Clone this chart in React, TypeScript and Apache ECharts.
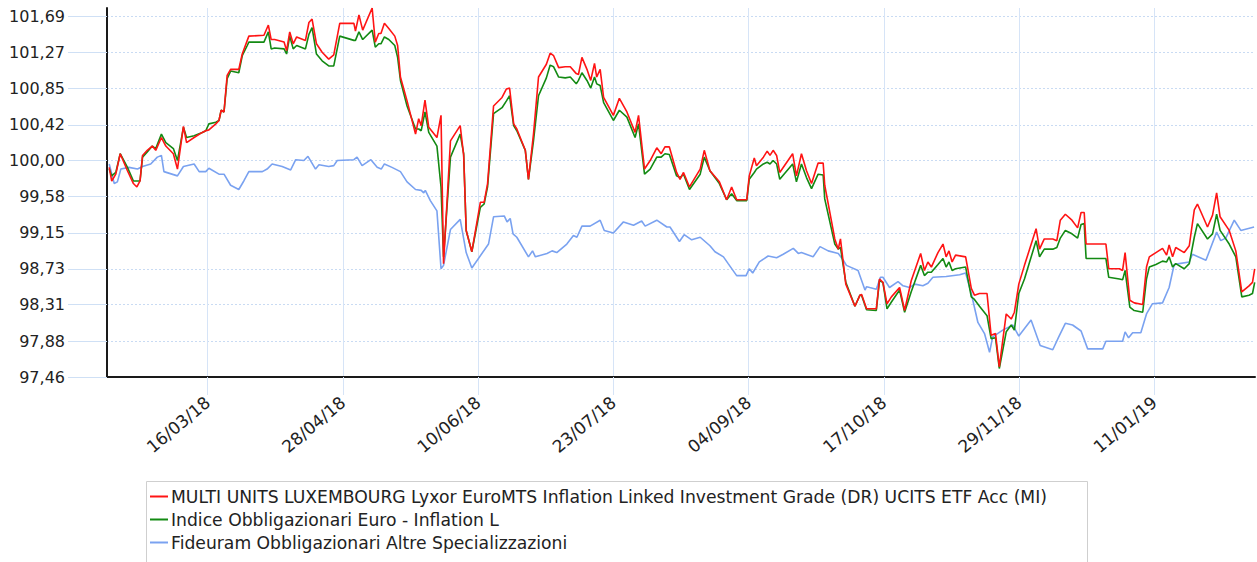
import React, { useEffect, useRef } from "react";
import * as echarts from "echarts";

// Day 0 = 12/02/2018
const xTickDays = [32, 75, 118, 161, 204, 247, 290, 333];
const xTickLabels = ["16/03/18", "28/04/18", "10/06/18", "23/07/18", "04/09/18", "17/10/18", "29/11/18", "11/01/19"];
const yTickLabels = ["97,46", "97,88", "98,31", "98,73", "99,15", "99,58", "100,00", "100,42", "100,85", "101,27", "101,69"];
const yTickValues = yTickLabels.map((s) => parseFloat(s.replace(",", ".")));

const seriesNames = [
  "MULTI UNITS LUXEMBOURG Lyxor EuroMTS Inflation Linked Investment Grade (DR) UCITS ETF Acc (MI)",
  "Indice Obbligazionari Euro - Inflation L",
  "Fideuram Obbligazionari Altre Specializzazioni",
];

const rgDays = [
  0.7, 1.5, 2.8, 4.2, 6.5, 8.4, 9.5, 10.5, 11.3, 12.8,
  14.4, 15.5, 17.3, 18.7, 21.1, 22.4, 24.3, 25.3, 27.7, 30.3,
  31.4, 32.4, 34.6, 35.6, 36.3, 37.2, 38.2, 39.3, 41.9, 43.0,
  44.6, 45.1, 49.9, 51.3, 52.2, 53.3, 56.3, 57.1, 58.1, 59.2,
  60.3, 63.1, 64.2, 65.2, 66.6, 68.4, 70.5, 72.1, 74.0, 78.5,
  79.0, 80.1, 81.3, 84.3, 85.3, 86.4, 87.1, 88.2, 89.6, 91.5,
  92.4, 93.3, 95.4, 98.1, 99.1, 99.9, 101.1, 102.3, 104.9, 106.2,
  107.0, 109.2, 112.3, 113.4, 114.2, 116.0, 118.7, 119.9, 121.0, 122.9,
  125.6, 127.0, 128.0, 129.3, 130.3, 133.0, 134.0, 135.6, 137.2, 139.7,
  140.9, 142.0, 143.6, 145.7, 147.3, 149.2, 149.9, 151.0, 152.6, 153.8,
  155.0, 155.7, 156.8, 157.9, 161.0, 162.9, 165.3, 167.9, 169.0, 170.9,
  172.7, 174.8, 176.2, 177.4, 178.8, 181.1, 182.2, 183.3, 185.2, 188.6,
  189.9, 191.7, 194.7, 197.0, 198.6, 200.2, 203.4, 204.2, 205.8, 206.5,
  208.7, 209.9, 210.8, 211.8, 212.9, 213.9, 218.0, 219.2, 220.8, 222.4,
  224.0, 226.1, 227.7, 228.2, 231.4, 232.5, 233.2, 234.9, 237.8, 239.4,
  239.9, 241.5, 244.6,
  245.6, 246.7, 248.0, 249.4, 252.0, 253.6, 255.7, 258.7, 259.9, 261.0,
  262.1, 264.2, 265.8, 266.8, 267.7, 268.7, 269.8, 273.0, 274.8, 275.8,
  277.4, 279.8, 281.1, 282.5, 283.7, 285.9, 287.5, 288.5, 289.9, 291.7,
  295.4, 296.5, 298.0, 300.7, 302.0, 303.1, 304.7, 306.8, 308.6, 309.7,
  310.7, 311.3, 317.6, 318.5, 321.9, 322.9, 323.7, 325.2, 326.6, 329.3,
  330.5, 331.4, 333.5, 335.6, 336.9, 337.7, 338.8, 339.8, 342.5, 344.1,
  345.7, 346.7, 349.9, 351.5, 352.8, 353.9, 356.8, 358.9, 360.8, 363.1,
  364.2, 364.9,
];

const redValues = [
  99.92, 99.76, 99.84, 100.08, 99.88, 99.73, 99.69, 99.76, 100.06, 100.12,
  100.17, 100.12, 100.27, 100.17, 100.08, 99.90, 100.40, 100.21, 100.27, 100.33,
  100.35, 100.36, 100.43, 100.47, 100.59, 100.57, 101.00, 101.07, 101.07, 101.25,
  101.41, 101.46, 101.47, 101.59, 101.42, 101.42, 101.39, 101.29, 101.51, 101.37,
  101.45, 101.41, 101.62, 101.66, 101.37, 101.27, 101.19, 101.24, 101.61, 101.61,
  101.52, 101.71, 101.53, 101.79, 101.39, 101.49, 101.49, 101.61, 101.55, 101.46,
  101.35, 100.98, 100.70, 100.31, 100.49, 100.41, 100.71, 100.39, 100.27, 100.53,
  98.79, 100.23, 100.41, 100.06, 99.18, 98.93, 99.51, 99.51, 99.73, 100.64,
  100.74, 100.84, 100.85, 100.43, 100.37, 100.12, 99.78, 100.31, 100.98, 101.13,
  101.26, 101.23, 101.09, 101.10, 101.10, 101.02, 101.01, 101.21, 101.07, 100.94,
  101.14, 100.98, 101.07, 100.74, 100.53, 100.73, 100.57, 100.33, 100.53, 99.90,
  100.00, 100.15, 100.08, 100.16, 100.16, 99.86, 99.78, 99.86, 99.69, 99.90,
  100.12, 99.88, 99.75, 99.54, 99.69, 99.54, 99.54, 99.82, 100.03, 99.94,
  100.04, 100.11, 100.06, 100.12, 100.06, 99.86, 100.08, 99.82, 100.08, 99.88,
  99.73, 99.97, 99.97, 99.71, 99.08, 98.96, 99.08, 98.55, 98.29, 98.42,
  98.43, 98.26, 98.26,
  98.61, 98.57, 98.32, 98.40, 98.51, 98.24, 98.59, 98.91, 98.71, 98.81,
  98.75, 98.92, 99.02, 98.87, 98.94, 98.81, 98.89, 98.87, 98.50, 98.42,
  98.44, 98.44, 97.95, 97.97, 97.58, 98.20, 98.14, 98.22, 98.55, 98.77,
  99.20, 98.96, 99.08, 99.08, 99.06, 99.30, 99.37, 99.30, 99.21, 99.39,
  99.39, 99.02, 99.02, 98.73, 98.73, 98.71, 98.92, 98.36, 98.33, 98.31,
  98.75, 98.87, 98.92, 98.97, 98.89, 99.01, 98.87, 98.98, 98.92, 99.00,
  99.42, 99.49, 99.22, 99.36, 99.62, 99.34, 99.18, 98.94, 98.46, 98.53,
  98.57, 98.73,
];

const greenValues = [
  99.90, 99.82, 99.86, 100.08, 99.92, 99.76, 99.76, 99.76, 100.04, 100.10,
  100.17, 100.14, 100.31, 100.21, 100.14, 100.00, 100.39, 100.27, 100.29, 100.33,
  100.35, 100.43, 100.45, 100.47, 100.59, 100.57, 100.96, 101.05, 101.03, 101.23,
  101.35, 101.39, 101.39, 101.51, 101.31, 101.32, 101.31, 101.25, 101.46, 101.31,
  101.35, 101.31, 101.48, 101.56, 101.25, 101.17, 101.11, 101.11, 101.46, 101.41,
  101.41, 101.51, 101.42, 101.53, 101.33, 101.37, 101.37, 101.45, 101.42, 101.35,
  101.21, 100.94, 100.64, 100.37, 100.37, 100.35, 100.57, 100.33, 100.17, 99.69,
  98.87, 100.04, 100.31, 100.08, 99.18, 98.93, 99.45, 99.49, 99.69, 100.55,
  100.62, 100.70, 100.76, 100.41, 100.35, 100.12, 99.78, 100.23, 100.76, 100.97,
  101.12, 101.10, 100.98, 100.97, 100.98, 100.90, 100.94, 101.03, 100.94, 100.85,
  100.98, 100.90, 100.88, 100.68, 100.47, 100.59, 100.51, 100.27, 100.43, 99.84,
  99.90, 100.04, 100.04, 100.08, 100.07, 99.82, 99.80, 99.84, 99.66, 99.84,
  100.04, 99.88, 99.73, 99.54, 99.61, 99.53, 99.53, 99.78, 99.86, 99.90,
  99.96, 99.98, 99.96, 100.00, 99.96, 99.78, 99.96, 99.75, 99.96, 99.80,
  99.67, 99.84, 99.83, 99.55, 99.02, 98.96, 98.98, 98.57, 98.29, 98.42,
  98.42, 98.25, 98.24,
  98.59, 98.57, 98.26, 98.34, 98.48, 98.22, 98.46, 98.77, 98.65, 98.69,
  98.69, 98.78, 98.85, 98.75, 98.81, 98.71, 98.73, 98.75, 98.40, 98.37,
  98.29, 98.18, 97.91, 97.92, 97.56, 97.99, 98.07, 98.01, 98.44, 98.61,
  99.06, 98.87, 98.96, 98.96, 98.98, 99.09, 99.18, 99.14, 99.09, 99.25,
  99.26, 98.85, 98.85, 98.63, 98.61, 98.60, 98.71, 98.28, 98.24, 98.22,
  98.61, 98.75, 98.78, 98.82, 98.81, 98.87, 98.75, 98.79, 98.73, 98.79,
  99.10, 99.26, 99.08, 99.14, 99.37, 99.18, 99.02, 98.87, 98.40, 98.42,
  98.44, 98.57,
];

const blueDays = [
  0.7, 2.3, 3.3, 4.4, 7.0, 9.7, 11.3, 13.9, 16.0, 17.3,
  18.1, 22.4, 24.3, 27.7, 29.3, 31.4, 32.4, 35.6, 37.2, 39.3,
  41.9, 43.5, 45.1, 49.4, 50.9, 52.5, 55.7, 58.4, 60.0, 62.6,
  63.9, 66.3, 67.4, 70.5, 72.1, 73.2, 78.5, 79.5, 81.1, 83.9,
  85.9, 87.2, 88.2, 90.6, 93.3, 95.4, 98.1, 99.9, 100.7, 101.2,
  102.8, 104.9, 106.2, 107.0, 109.2, 112.3, 114.2, 116.0, 121.3, 122.9,
  126.3, 127.2, 128.2, 129.1, 130.3, 134.0, 135.3, 136.2, 139.9, 141.5,
  143.0, 146.2, 148.3, 149.4, 151.0, 153.6, 156.8, 158.1, 161.0, 164.2,
  167.4, 170.0, 171.1, 174.8, 178.0, 179.0, 182.0, 183.5, 185.9, 188.6,
  191.7, 193.3, 196.0, 197.5, 200.2, 203.2, 204.2, 205.3, 207.4, 210.2,
  212.9, 215.0, 218.2, 219.8, 220.8, 224.5, 226.7, 229.3, 232.5, 234.1,
  235.1, 238.8, 241.0, 241.5, 242.5, 244.6,
  245.9, 246.7, 248.8, 251.5, 253.1, 255.2, 256.8, 259.4, 261.0, 262.6,
  266.8, 271.1, 273.0, 274.8, 276.9, 279.0, 280.6, 281.6, 284.8, 288.0,
  289.9, 293.8, 296.7, 300.7, 302.6, 304.7, 307.0, 309.7, 311.8, 316.6,
  317.6, 322.9, 323.7, 324.8, 326.1, 328.7, 330.5, 332.4, 335.6, 337.7,
  339.3, 340.9, 344.1, 345.1, 349.4, 352.8, 354.1, 355.7, 358.4, 360.5,
  364.7,
];

const blueValues = [
  99.96, 99.73, 99.75, 99.90, 99.92, 99.90, 99.93, 99.96, 100.04, 100.06,
  99.87, 99.82, 99.93, 99.96, 99.87, 99.87, 99.91, 99.84, 99.84, 99.71,
  99.66, 99.76, 99.87, 99.87, 99.90, 99.96, 99.93, 99.89, 100.01, 100.00,
  100.05, 99.90, 99.95, 99.93, 99.94, 100.00, 100.01, 100.04, 99.94, 100.01,
  99.92, 99.90, 99.96, 99.92, 99.87, 99.75, 99.66, 99.65, 99.62, 99.65,
  99.53, 99.41, 98.73, 98.77, 99.19, 99.31, 98.92, 98.74, 99.02, 99.34,
  99.35, 99.28, 99.32, 99.14, 99.10, 98.87, 98.94, 98.87, 98.91, 98.94,
  98.92, 99.02, 99.12, 99.10, 99.23, 99.23, 99.30, 99.18, 99.15, 99.28,
  99.24, 99.29, 99.23, 99.30, 99.22, 99.22, 99.05, 99.13, 99.07, 99.10,
  99.00, 98.93, 98.87, 98.79, 98.65, 98.65, 98.73, 98.68, 98.81, 98.88,
  98.86, 98.90, 98.97, 98.91, 98.92, 98.87, 98.99, 98.94, 98.91, 98.83,
  98.77, 98.71, 98.48, 98.52, 98.51, 98.49,
  98.63, 98.63, 98.51, 98.58, 98.53, 98.51, 98.55, 98.53, 98.56, 98.63,
  98.64, 98.66, 98.68, 98.44, 98.10, 97.97, 97.75, 97.93, 98.01, 98.07,
  97.94, 98.13, 97.83, 97.78, 97.93, 98.09, 98.07, 98.00, 97.79, 97.79,
  97.88, 97.88, 97.99, 97.92, 97.98, 97.98, 98.20, 98.32, 98.33, 98.51,
  98.78, 98.79, 98.81, 98.90, 98.83, 99.16, 99.06, 99.09, 99.30, 99.18,
  99.22,
];

const FONT = "DejaVu Sans";

export default function App() {
  const ref = useRef<HTMLDivElement>(null);

  useEffect(() => {
    if (!ref.current) return;
    const chart = echarts.init(ref.current, null, { renderer: "svg" });
    const pair = (xs: number[], ys: number[]) => xs.map((x, i) => [x, ys[i]]);
    chart.setOption({
      animation: false,
      backgroundColor: "#ffffff",
      grid: { left: 107, right: 2, top: 8, bottom: 185, containLabel: false },
      xAxis: {
        type: "value",
        min: 0,
        max: 365,
        axisLine: { show: true, onZero: false, lineStyle: { color: "#1a1a1a", width: 2 } },
        axisTick: { show: true, customValues: xTickDays, length: 18, lineStyle: { color: "#d6e4f7", width: 1 } },
        axisLabel: {
          customValues: xTickDays,
          rotate: 40,
          margin: 23,
          fontFamily: FONT,
          fontSize: 17,
          color: "#222",
          formatter: (v: number) => {
            const i = xTickDays.indexOf(Math.round(v));
            return i >= 0 ? xTickLabels[i] : "";
          },
        },
        splitLine: { show: true, lineStyle: { color: "#d6e4f7", width: 1 } },
      },
      yAxis: {
        type: "value",
        min: 97.46,
        max: 101.79,
        axisLine: { show: true, onZero: false, lineStyle: { color: "#1a1a1a", width: 2 } },
        axisTick: { show: true, customValues: yTickValues, length: 39, lineStyle: { color: "#cfe0f5", width: 1 } },
        axisLabel: {
          customValues: yTickValues,
          margin: 42,
          fontFamily: FONT,
          fontSize: 16,
          color: "#222",
          formatter: (v: number) => {
            let best = 0;
            for (let i = 1; i < yTickValues.length; i++) {
              if (Math.abs(yTickValues[i] - v) < Math.abs(yTickValues[best] - v)) best = i;
            }
            return yTickLabels[best];
          },
        },
        splitLine: { show: true, lineStyle: { color: "#c9dbf3", width: 1, type: [2, 2] } },
      },
      legend: {
        orient: "vertical",
        left: 150,
        top: 488,
        padding: 0,
        itemGap: 6,
        itemWidth: 18,
        itemHeight: 2,
        icon: "rect",
        data: seriesNames,
        textStyle: { fontFamily: FONT, fontSize: 17.2, color: "#222", lineHeight: 17, padding: [0, 0, 0, -2] },
      },
      graphic: [
        {
          type: "rect",
          shape: { x: 146.5, y: 481.5, width: 941, height: 100 },
          style: { fill: "none", stroke: "#cfcfcf", lineWidth: 1 },
          z: -1,
          silent: true,
        },
      ],
      series: [
        {
          name: seriesNames[2],
          type: "line",
          data: pair(blueDays, blueValues),
          symbol: "none",
          lineStyle: { color: "#7aa2f0", width: 1.6 },
          itemStyle: { color: "#7aa2f0" },
          z: 2,
        },
        {
          name: seriesNames[1],
          type: "line",
          data: pair(rgDays, greenValues),
          symbol: "none",
          lineStyle: { color: "#138a13", width: 1.6 },
          itemStyle: { color: "#138a13" },
          z: 3,
        },
        {
          name: seriesNames[0],
          type: "line",
          data: pair(rgDays, redValues),
          symbol: "none",
          lineStyle: { color: "#ff1414", width: 1.6 },
          itemStyle: { color: "#ff1414" },
          z: 4,
        },
      ],
    });
    return () => chart.dispose();
  }, []);

  return (
    <div
      ref={ref}
      style={{ position: "fixed", left: 0, top: 0, width: 1257, height: 562, background: "#fff" }}
    />
  );
}
